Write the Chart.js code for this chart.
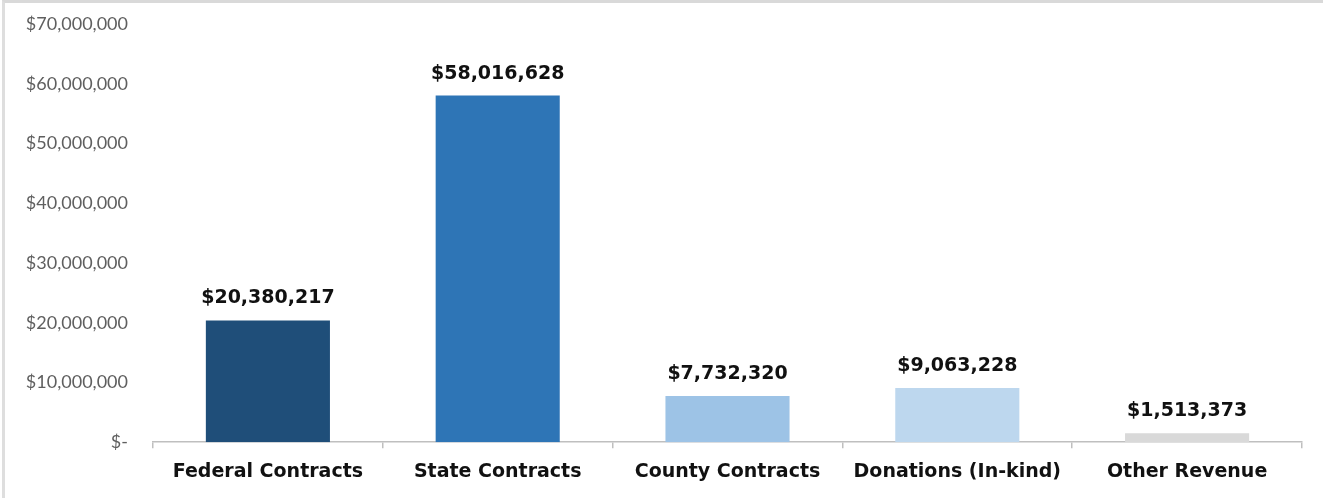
<!DOCTYPE html>
<html>
<head>
<meta charset="utf-8">
<script src="https://cdn.jsdelivr.net/npm/chart.js@4/dist/chart.umd.min.js"></script>
<style>
  html, body { margin: 0; padding: 0; background: #ffffff; }
  #wrap { position: relative; width: 1323px; height: 498px; }
  #frame { position: absolute; left: 2px; top: 0; right: 0; bottom: 0;
           border-top: 3px solid #d9d9d9; border-left: 3px solid #dedede; pointer-events: none; }
</style>
</head>
<body>
<div id="wrap">
  <canvas id="c" width="1323" height="498"></canvas>
  <div id="frame"></div>
</div>
<script>
const categories = ["Federal Contracts", "State Contracts", "County Contracts", "Donations (In-kind)", "Other Revenue"];
const revenue = [20380217, 58016628, 7732320, 9063228, 1513373];
const barColors = ["#1f4e79", "#2e75b6", "#9dc3e6", "#bdd7ee", "#d9d9d9"];
const yTickMax = 70000000;
const yTickStep = 10000000;

function money(v) {
  if (v === 0) return "$-";
  return "$" + Math.round(v).toLocaleString("en-US");
}

const dataLabels = {
  id: "dataLabels",
  afterDatasetsDraw(chart) {
    const ctx = chart.ctx;
    const meta = chart.getDatasetMeta(0);
    ctx.save();
    ctx.font = "bold 19px 'DejaVu Sans'";
    ctx.fillStyle = "#111111";
    ctx.textAlign = "center";
    ctx.textBaseline = "middle";
    meta.data.forEach((bar, i) => {
      ctx.fillText(money(revenue[i]), bar.x, bar.y - 22);
    });
    ctx.restore();
  }
};

new Chart(document.getElementById("c"), {
  type: "bar",
  data: {
    labels: categories,
    datasets: [{
      data: revenue,
      backgroundColor: barColors,
      borderWidth: 0,
      barPercentage: 0.54,
      categoryPercentage: 1.0
    }]
  },
  options: {
    responsive: false,
    animation: false,
    devicePixelRatio: 1,
    layout: { padding: { left: 3, right: 21, top: 24, bottom: 3 } },
    plugins: { legend: { display: false }, tooltip: { enabled: false } },
    scales: {
      x: {
        offset: true,
        grid: { display: true, drawOnChartArea: false, drawTicks: true, tickLength: 6, offset: true, color: "#bfbfbf", lineWidth: 1.5 },
        border: { display: true, color: "#bfbfbf", width: 1.5 },
        ticks: { color: "#111111", padding: 12, font: { family: "'DejaVu Sans'", size: 19, weight: "bold" } }
      },
      y: {
        min: 0,
        max: yTickMax,
        grid: { display: false },
        border: { display: false },
        afterFit(scale) { scale.width = 150; scale.paddingTop = 0; scale.paddingBottom = 0; },
        ticks: {
          stepSize: yTickStep,
          padding: 17,
          color: "#5f5f5f",
          font: { family: "Lato", size: 18 },
          callback: (v) => money(v)
        }
      }
    }
  },
  plugins: [dataLabels]
});
</script>
</body>
</html>
